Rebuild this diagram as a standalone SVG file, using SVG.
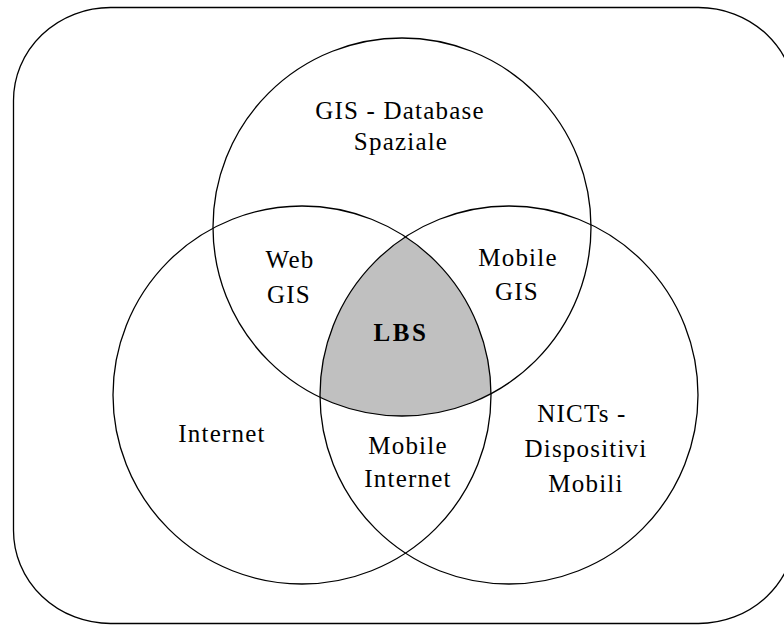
<svg xmlns="http://www.w3.org/2000/svg" width="784" height="626" viewBox="0 0 784 626">
<style>
.ln{fill:none;stroke:#000;stroke-width:1.3}
.t{font-family:"Liberation Serif","Times New Roman",serif;font-size:25px;letter-spacing:1.2px;fill:#000;text-anchor:middle}
.b{font-weight:bold;letter-spacing:2.5px}
</style>
<rect width="784" height="626" fill="#fff"/>
<g id="frame">
<rect class="ln" x="13.5" y="7.5" width="782" height="616" rx="97" ry="93" stroke="#222" stroke-width="1.6"/>
</g>
<g id="lbs">
<path d="M405.5,236.86 A189,189 0 0 0 320.01,397.29 A189,189 0 0 0 491,393.74 A189,189 0 0 0 405.5,236.86 Z" fill="#c0c0c0"/>
<text class="t b" x="401" y="341">LBS</text>
</g>
<g id="gis">
<circle class="ln" cx="402" cy="227" r="189"/>
<text class="t" x="400" y="119">GIS - Database</text>
<text class="t" x="401" y="150">Spaziale</text>
</g>
<g id="internet">
<circle class="ln" cx="302" cy="395" r="189"/>
<text class="t" x="222" y="442">Internet</text>
</g>
<g id="nicts">
<circle class="ln" cx="509" cy="395" r="189"/>
<text class="t" x="582" y="422">NICTs -</text>
<text class="t" x="586" y="457">Dispositivi</text>
<text class="t" x="586" y="492">Mobili</text>
</g>
<g id="webgis">
<text class="t" x="290" y="268">Web</text>
<text class="t" x="289" y="303">GIS</text>
</g>
<g id="mobilegis">
<text class="t" x="518" y="266">Mobile</text>
<text class="t" x="517" y="300">GIS</text>
</g>
<g id="mobileinternet">
<text class="t" x="408" y="454">Mobile</text>
<text class="t" x="408" y="487">Internet</text>
</g>
</svg>
